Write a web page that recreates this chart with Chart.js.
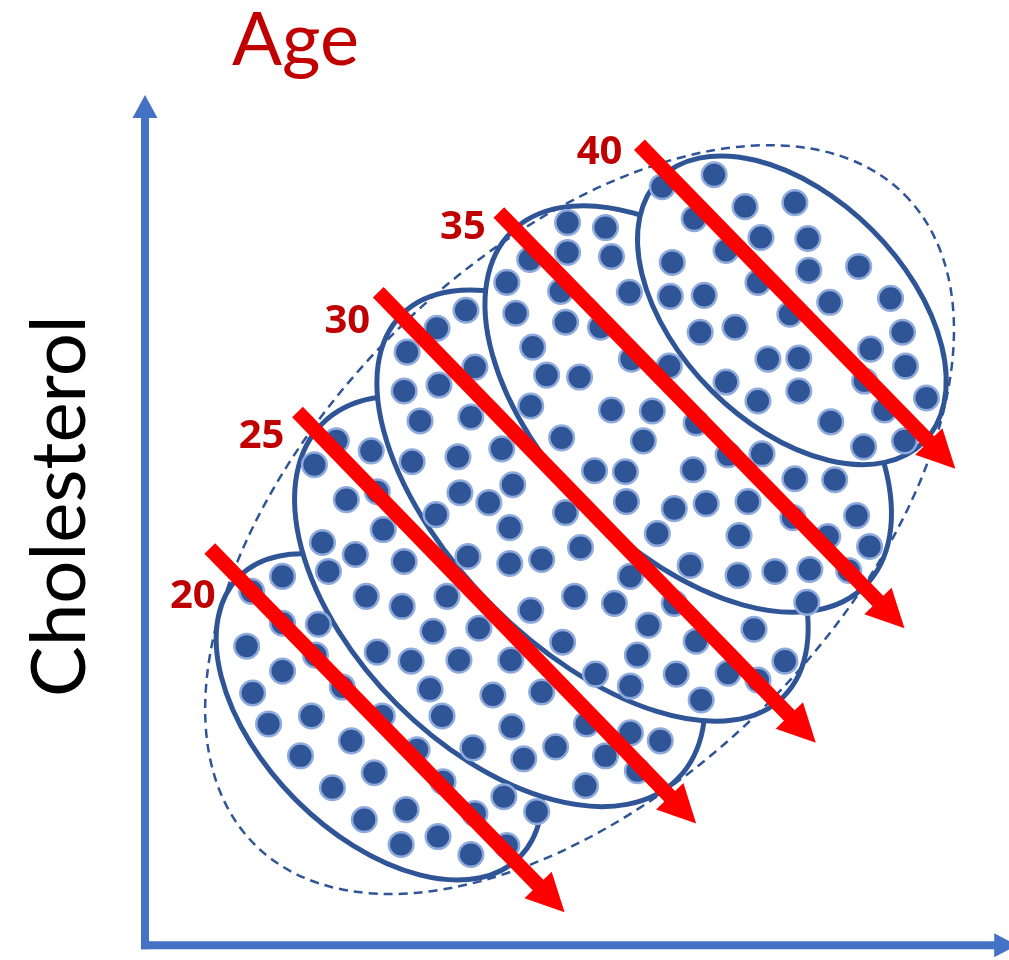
<!DOCTYPE html>
<html>
<head>
<meta charset="utf-8">
<script src="https://cdn.jsdelivr.net/npm/chart.js@4.4.1/dist/chart.umd.min.js"></script>
<style>
  html, body { margin: 0; padding: 0; background: #fff; }
</style>
</head>
<body>
<canvas id="chart" width="1009" height="960"></canvas>
<script>
// age groups and the patients in each one (x = exercise, y = cholesterol, arbitrary units)
var ages = ['20', '25', '30', '35', '40'];

var age20 = [[136,367],[105,352],[136,320],[172,319],[100,297],[169,288],[136,272],[196,256],[106,250],
  [165,227],[236,227],[122,219],[205,202],[271,193],[154,187],[228,170],[297,161],[186,155],[358,146],
  [260,133],[329,129],[391,131],[218,123],[255,98],[292,106],[325,88],[361,97]];

var age25 = [[190,503],[225,493],[168,479],[200,444],[231,452],[237,414],[176,401],[209,389],[258,382],
  [182,372],[220,347],[256,337],[301,347],[287,312],[333,315],[231,291],[265,282],[313,283],[365,283],
  [284,254],[347,248],[396,251],[296,227],[441,219],[366,216],[485,210],[515,202],[327,195],[410,196],
  [378,184],[460,187],[492,172],[440,157]];

var age30 = [[320,634],[291,616],[261,592],[329,577],[293,559],[258,553],[274,523],[325,527],[266,482],
  [312,487],[356,495],[314,451],[343,441],[367,459],[290,429],[420,431],[364,416],[322,387],[364,380],
  [396,384],[435,396],[485,367],[385,333],[429,347],[469,340],[529,340],[503,318],[609,314],[551,302],
  [417,301],[492,288],[640,282],[450,269],[531,269],[583,270],[613,263],[485,257],[556,243]];

var age35 = [[422,722],[460,717],[422,692],[466,688],[384,685],[361,662],[415,653],[484,652],[370,631],
  [420,622],[455,617],[387,597],[486,585],[524,578],[401,569],[434,567],[507,533],[551,521],[385,538],
  [466,534],[498,503],[617,490],[583,489],[548,474],[650,465],[690,464],[416,506],[449,473],[480,472],
  [481,442],[529,435],[561,440],[603,442],[712,428],[648,426],[512,410],[594,408],[683,407],[725,397],
  [545,378],[593,368],[630,372],[665,374],[704,373],[662,341]];

var age40 = [[569,770],[517,758],[600,738],[650,742],[549,726],[616,707],[663,706],[581,694],[527,682],
  [664,674],[714,678],[613,662],[525,648],[559,649],[685,642],[746,646],[645,630],[555,612],[590,617],
  [758,612],[726,595],[623,585],[654,586],[761,578],[720,563],[581,562],[654,553],[613,543],[782,546],
  [740,534],[686,522],[760,503],[719,497]];

var groups = [age20, age25, age30, age35, age40];

// spread of each age group: centre, half axes, tilt in degrees
var groupCenter = [[233,226],[354,342],[447,438],[543,535],[647,634]];
var groupAxes = [[199,118],[252,146],[271,142],[251,142],[187,114]];
var groupTilt = -45;

// spread of everybody together
var allCenter = [434,424];
var allAxes = [461,264];
var allTilt = 45;

// trend inside each age group
var trendFrom = [[63,395],[151,532],[232,652],[353,732],[494,800]];
var trendTo = [[419,30],[551,119],[671,200],[760,315],[811,475]];
var labelAt = [[46,347],[115,507],[201,623],[317,717],[454,792]];

var DOT = '#2F5597';
var DOT_EDGE = '#8FAADC';
var AXIS = '#4472C4';
var RED = '#FF0000';
var DARKRED = '#C00000';

function drawArrow(ctx, x0, y0, x1, y1, width, headLen, headWidth, color) {
  var dx = x1 - x0, dy = y1 - y0;
  var len = Math.sqrt(dx * dx + dy * dy);
  var ux = dx / len, uy = dy / len;
  var bx = x1 - ux * headLen, by = y1 - uy * headLen;
  ctx.strokeStyle = color;
  ctx.fillStyle = color;
  ctx.lineWidth = width;
  ctx.lineCap = 'butt';
  ctx.beginPath();
  ctx.moveTo(x0, y0);
  ctx.lineTo(bx + ux, by + uy);
  ctx.stroke();
  ctx.beginPath();
  ctx.moveTo(x1, y1);
  ctx.lineTo(bx - uy * headWidth / 2, by + ux * headWidth / 2);
  ctx.lineTo(bx + uy * headWidth / 2, by - ux * headWidth / 2);
  ctx.closePath();
  ctx.fill();
}

function ellipsePath(chart, c, ax, tilt) {
  var xs = chart.scales.x, ys = chart.scales.y;
  var unit = xs.getPixelForValue(1) - xs.getPixelForValue(0);
  chart.ctx.beginPath();
  chart.ctx.ellipse(xs.getPixelForValue(c[0]), ys.getPixelForValue(c[1]),
    ax[0] * unit, ax[1] * unit, -tilt * Math.PI / 180, 0, 2 * Math.PI);
}

var drawings = {
  id: 'drawings',
  beforeDatasetsDraw: function (chart) {
    var ctx = chart.ctx, area = chart.chartArea;
    ctx.save();
    // older group drawn last so it covers the younger one
    for (var i = 0; i < ages.length; i++) {
      ellipsePath(chart, groupCenter[i], groupAxes[i], groupTilt);
      ctx.fillStyle = '#fff';
      ctx.fill();
      ctx.lineWidth = 5;
      ctx.strokeStyle = DOT;
      ctx.stroke();
    }
    ellipsePath(chart, allCenter, allAxes, allTilt);
    ctx.setLineDash([9, 6]);
    ctx.lineWidth = 2.5;
    ctx.strokeStyle = DOT;
    ctx.stroke();
    ctx.setLineDash([]);

    // axes with arrow heads
    drawArrow(ctx, area.left, area.bottom + 4, area.left, area.top, 8, 23, 25, AXIS);
    drawArrow(ctx, area.left - 4, area.bottom, area.right + 23, area.bottom, 8, 23, 24, AXIS);
    ctx.restore();
  },
  afterDatasetsDraw: function (chart) {
    var ctx = chart.ctx, area = chart.chartArea;
    var xs = chart.scales.x, ys = chart.scales.y;
    ctx.save();
    for (var i = 0; i < ages.length; i++) {
      drawArrow(ctx,
        xs.getPixelForValue(trendFrom[i][0]), ys.getPixelForValue(trendFrom[i][1]),
        xs.getPixelForValue(trendTo[i][0]), ys.getPixelForValue(trendTo[i][1]),
        15, 38, 38, RED);
    }
    ctx.fillStyle = DARKRED;
    ctx.font = 'bold 40px "Open Sans", "Liberation Sans", sans-serif';
    ctx.textAlign = 'center';
    ctx.textBaseline = 'middle';
    for (var j = 0; j < ages.length; j++) {
      ctx.fillText(ages[j], xs.getPixelForValue(labelAt[j][0]), ys.getPixelForValue(labelAt[j][1]));
    }

    ctx.font = '74px Lato, "Liberation Sans", sans-serif';
    ctx.textAlign = 'left';
    ctx.textBaseline = 'alphabetic';
    ctx.fillText('Age', area.left + 87, area.top - 30);

    ctx.fillStyle = '#000';
    ctx.font = '76px Lato, "Liberation Sans", sans-serif';
    ctx.textAlign = 'center';
    ctx.translate(area.left - 60, (area.top + area.bottom) / 2 - 14);
    ctx.rotate(-Math.PI / 2);
    ctx.fillText('Cholesterol', 0, 0);
    ctx.restore();
  }
};

var datasets = [];
for (var g = 0; g < groups.length; g++) {
  datasets.push({
    label: 'Age ' + ages[g],
    data: groups[g].map(function (p) { return { x: p[0], y: p[1] }; }),
    backgroundColor: DOT,
    borderColor: DOT_EDGE,
    borderWidth: 2.5,
    pointRadius: 12.3,
    clip: false
  });
}

var ctx = document.getElementById('chart').getContext('2d');
window.simpson = new Chart(ctx, {
  type: 'scatter',
  data: { datasets: datasets },
  options: {
    responsive: false,
    animation: false,
    devicePixelRatio: 1,
    layout: { padding: { left: 145, right: 12, top: 95, bottom: 12 } },
    scales: {
      x: { type: 'linear', display: false, min: -2, max: 850 },
      y: { type: 'linear', display: false, min: -3, max: 850 }
    },
    plugins: {
      legend: { display: false },
      tooltip: { enabled: false }
    }
  },
  plugins: [drawings]
});
</script>
</body>
</html>
